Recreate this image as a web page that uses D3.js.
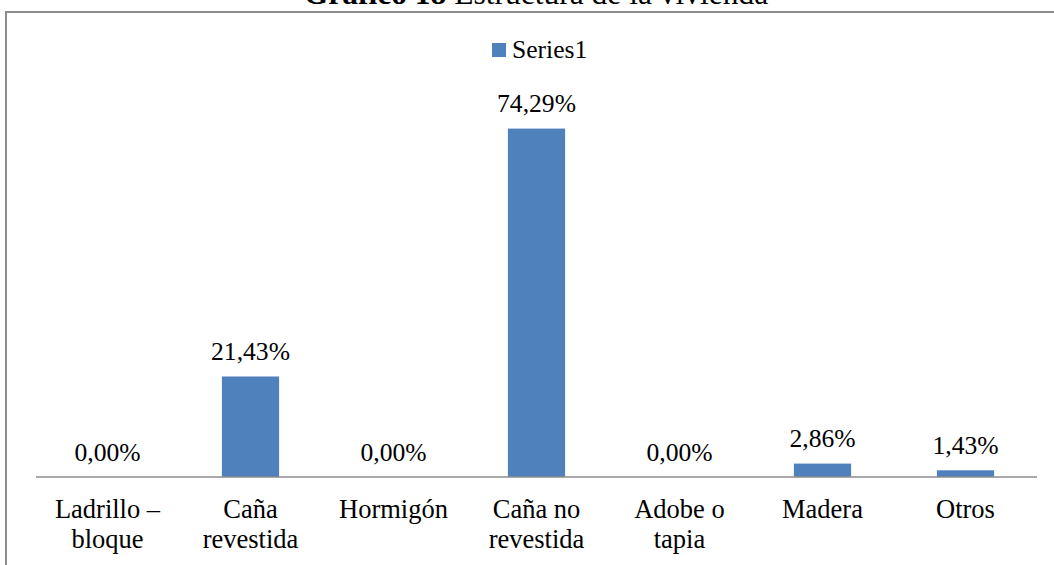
<!DOCTYPE html>
<html><head><meta charset="utf-8">
<script src="https://cdn.jsdelivr.net/npm/d3@7"></script>
<style>body{margin:0;background:#fff}svg{display:block}</style>
</head><body>
<script>
const categories = [["Ladrillo –","bloque"],["Caña","revestida"],["Hormigón"],["Caña no","revestida"],["Adobe o","tapia"],["Madera"],["Otros"]];
const values = [0, 21.43, 0, 74.29, 0, 2.86, 1.43];
const valueLabels = ["0,00%","21,43%","0,00%","74,29%","0,00%","2,86%","1,43%"];
const seriesName = "Series1";
const titleBold = "Gráfico 18";
const titleRest = " Estructura de la vivienda";

const W = 1054, H = 565;
const svg = d3.select("body").append("svg").attr("width", W).attr("height", H);
const font = "'Liberation Serif','Times New Roman',serif";
const color = "#4F81BD";

// chart area border (right and bottom edges lie outside the picture)
svg.append("rect").attr("x", 6).attr("y", 12).attr("width", W + 10).attr("height", H + 10)
  .attr("fill", "none").attr("stroke", "#8c8c8c").attr("stroke-width", 2);

// title (mostly cut off at top)
const t = svg.append("text").attr("x", 536).attr("y", 4).attr("text-anchor", "middle")
  .attr("font-family", font).attr("font-size", 31.5).attr("fill", "#000");
t.append("tspan").attr("font-weight", "bold").text(titleBold);
t.append("tspan").text(titleRest);

const x = d3.scaleBand().domain(d3.range(categories.length)).range([36, 1037]).paddingInner(0.6).paddingOuter(0.3);
const baseY = 477;
const y = d3.scaleLinear().domain([0, 80]).range([baseY, baseY - 80 * 4.69]);

svg.selectAll("rect.bar").data(values).join("rect").attr("class", "bar")
  .attr("x", (d, i) => x(i)).attr("width", x.bandwidth())
  .attr("y", d => y(d)).attr("height", d => baseY - y(d)).attr("fill", color);

svg.append("line").attr("x1", 36).attr("x2", 1037).attr("y1", baseY).attr("y2", baseY)
  .attr("stroke", "#8c8c8c").attr("stroke-width", 1.5);

svg.selectAll("text.val").data(values).join("text").attr("class", "val")
  .attr("x", (d, i) => x(i) + x.bandwidth() / 2).attr("y", d => y(d) - 16.5)
  .attr("text-anchor", "middle").attr("font-family", font).attr("font-size", 25.6)
  .text((d, i) => valueLabels[i]);

const cat = svg.selectAll("text.cat").data(categories).join("text").attr("class", "cat")
  .attr("x", (d, i) => x(i) + x.bandwidth() / 2).attr("y", 518)
  .attr("text-anchor", "middle").attr("font-family", font).attr("font-size", 26.5);
cat.each(function(d, i) {
  const el = d3.select(this);
  d.forEach((line, j) => el.append("tspan").attr("x", x(i) + x.bandwidth() / 2).attr("dy", j === 0 ? 0 : 30).text(line));
});

// legend
svg.append("rect").attr("x", 492).attr("y", 43).attr("width", 14).attr("height", 14).attr("fill", color);
svg.append("text").attr("x", 512).attr("y", 58).attr("font-family", font).attr("font-size", 25.6).text(seriesName);
</script>
</body></html>
